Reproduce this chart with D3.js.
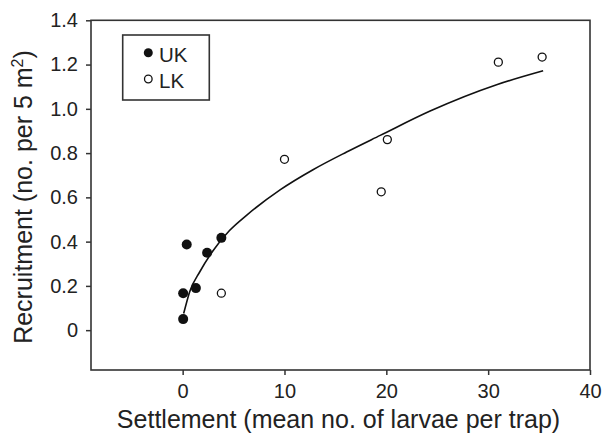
<!doctype html>
<html>
<head>
<style>
body { margin: 0; background: #fff; }
text { font-family: "Liberation Sans", Arial, Helvetica, sans-serif; fill: #222; }
.frame { fill: none; stroke: #333; stroke-width: 1.6px; }
.axis path { display: none; }
.axis line { stroke: #333; stroke-width: 1.5px; }
.axis text { font-size: 20px; fill: #222; }
.fit { fill: none; stroke: #111; stroke-width: 1.6px; }
</style>
</head>
<body>
<div id="root"></div>
<script src="https://d3js.org/d3.v7.min.js"></script>
<script>
// UK sites (filled)
var ukX = [0.05, 0.05, 0.4, 1.3, 2.4, 3.8];
var ukY = [0.05, 0.167, 0.387, 0.19, 0.35, 0.417];
// LK sites (open)
var lkX = [3.8, 10.0, 19.5, 20.1, 31.0, 35.3];
var lkY = [0.167, 0.772, 0.625, 0.861, 1.211, 1.234];
// fitted curve
var fitX = [0.1, 0.7, 1.7, 3.0, 4.6, 6.3, 9.6, 12.8, 16.1, 19.4, 24.3, 30.9, 35.4];
var fitY = [0.075, 0.175, 0.265, 0.36, 0.45, 0.52, 0.635, 0.725, 0.805, 0.88, 0.99, 1.11, 1.172];

var xTicks = [0, 10, 20, 30, 40];
var yTicks = [0, 0.2, 0.4, 0.6, 0.8, 1.0, 1.2, 1.4];

var W = 603, H = 433;
var x = d3.scaleLinear().domain([-9, 40]).range([91, 590]);
var y = d3.scaleLinear().domain([-0.18, 1.4]).range([370, 20.3]);

var svg = d3.select('#root').append('svg')
	.attr('width', W)
	.attr('height', H);

svg.append('g')
	.attr('class', 'axis')
	.attr('transform', 'translate(0,' + y.range()[0] + ')')
	.call(d3.axisBottom(x).tickValues(xTicks).tickSize(5).tickPadding(9));

svg.append('g')
	.attr('class', 'axis')
	.attr('transform', 'translate(' + x.range()[0] + ',0)')
	.call(d3.axisLeft(y).tickValues(yTicks).tickSize(5).tickPadding(8)
		.tickFormat(function(d){ return d === 0 ? '0' : d3.format('.1f')(d); }));

svg.append('rect')
	.attr('class', 'frame')
	.attr('x', x.range()[0])
	.attr('y', y.range()[1])
	.attr('width', x.range()[1] - x.range()[0])
	.attr('height', y.range()[0] - y.range()[1]);

var line = d3.line()
	.x(function(d){ return x(d[0]); })
	.y(function(d){ return y(d[1]); })
	.curve(d3.curveMonotoneX);

svg.append('path')
	.attr('class', 'fit')
	.attr('d', line(d3.zip(fitX, fitY)));

svg.append('g').selectAll('circle')
	.data(d3.zip(lkX, lkY))
	.enter().append('circle')
		.attr('cx', function(d){ return x(d[0]); })
		.attr('cy', function(d){ return y(d[1]); })
		.attr('r', 4)
		.attr('fill', '#fff')
		.attr('stroke', '#111')
		.attr('stroke-width', 1.3);

svg.append('g').selectAll('circle')
	.data(d3.zip(ukX, ukY))
	.enter().append('circle')
		.attr('cx', function(d){ return x(d[0]); })
		.attr('cy', function(d){ return y(d[1]); })
		.attr('r', 5)
		.attr('fill', '#111');

// legend
var lg = svg.append('g');
lg.append('rect')
	.attr('class', 'frame')
	.attr('x', 122.7).attr('y', 35)
	.attr('width', 86.6).attr('height', 65);
lg.append('circle').attr('cx', 148.3).attr('cy', 52.7).attr('r', 4.5).attr('fill', '#111');
lg.append('circle').attr('cx', 148.3).attr('cy', 79).attr('r', 3.8)
	.attr('fill', '#fff').attr('stroke', '#111').attr('stroke-width', 1.3);
lg.append('text').attr('x', 159).attr('y', 62).style('font-size', '20.5px').text('UK');
lg.append('text').attr('x', 159).attr('y', 87.5).style('font-size', '20.5px').text('LK');

// axis titles
svg.append('text')
	.attr('x', 338.5).attr('y', 428)
	.attr('text-anchor', 'middle')
	.style('font-size', '25px')
	.text('Settlement (mean no. of larvae per trap)');

var yt = svg.append('text')
	.attr('transform', 'translate(31.5,197) rotate(-90)')
	.attr('text-anchor', 'middle')
	.style('font-size', '25px');
yt.append('tspan').text('Recruitment (no. per 5 m');
yt.append('tspan').attr('dy', -9).style('font-size', '16px').text('2');
yt.append('tspan').attr('dy', 9).text(')');
</script>
</body>
</html>
